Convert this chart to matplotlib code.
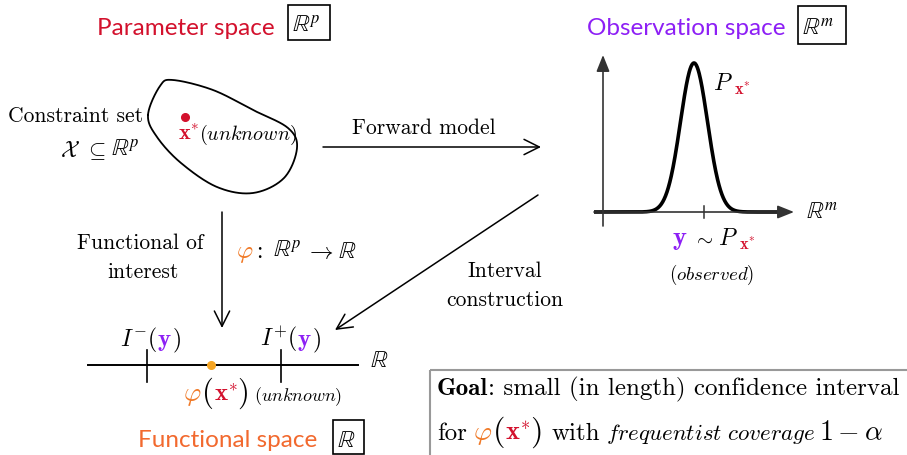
import numpy as np
import matplotlib.pyplot as plt
from matplotlib.patches import Rectangle

plt.rcParams['mathtext.fontset'] = 'cm'
plt.rcParams['font.family'] = 'cmr10'
plt.rcParams['axes.unicode_minus'] = False

red = '#d3112d'
purple = '#8d1ff5'
orange = '#f2692e'
phi_orange = '#f07a28'
dot_orange = '#f5a524'
title_font = 'Lato'
body = 15.5

# outline of the constraint set (pixel coords)
blob_x = [148, 160, 173, 213, 253, 288, 297, 284, 253, 217, 181, 157]
blob_y = [115, 86, 80, 90, 110, 128, 148, 178, 193, 187, 163, 137]

# density in observation space
peak_x, peak_sigma, peak_top, base_y = 694, 13.5, 63, 212
obs_tick = 704

# interval on the real line
line_start, line_end, line_y = 88, 358, 365
lower_tick, upper_tick, truth_x = 147, 281, 211

fig = plt.figure(figsize=(9.07, 4.55), dpi=100)
ax = fig.add_axes([0, 0, 1, 1])
ax.set_xlim(0, 907)
ax.set_ylim(455, 0)
ax.axis('off')
renderer = fig.canvas.get_renderer()


def line_of(x, y, parts, size=body, ha='left'):
    # coloured pieces on one baseline; a bare number is a gap in pixels
    arts, widths = [], []
    for p in parts:
        if isinstance(p, (int, float)):
            arts.append(None)
            widths.append(p)
            continue
        kw = dict(p[2]) if len(p) > 2 else {}
        kw.setdefault('fontsize', size)
        t = ax.text(0, y, p[0], color=p[1], va='baseline', ha='left', **kw)
        arts.append(t)
        widths.append(t.get_window_extent(renderer).width)
    total = sum(widths)
    cx = x - total / 2 if ha == 'center' else (x - total if ha == 'right' else x)
    for t, w in zip(arts, widths):
        if t is not None:
            t.set_x(cx)
        cx += w
    return arts


def closed_spline(px, py, n=30):
    pts = np.column_stack([px, py]).astype(float)
    m = len(pts)
    t = np.linspace(0, 1, n, endpoint=False)[:, None]
    out = []
    for i in range(m):
        p0, p1, p2, p3 = pts[i - 1], pts[i], pts[(i + 1) % m], pts[(i + 2) % m]
        out.append(0.5 * (2 * p1 + (-p0 + p2) * t + (2 * p0 - 5 * p1 + 4 * p2 - p3) * t ** 2
                          + (-p0 + 3 * p1 - 3 * p2 + p3) * t ** 3))
    out = np.vstack(out + [out[0][:1]])
    return out[:, 0], out[:, 1]


def boxed(x0, y0, x1, y1):
    ax.add_patch(Rectangle((x0, y0), x1 - x0, y1 - y0, fill=False, ec='black', lw=1.2))


def arrow(start, end):
    ax.annotate('', xy=end, xytext=start,
                arrowprops=dict(arrowstyle='->,head_length=0.5,head_width=0.25', color='black',
                                lw=1.1, mutation_scale=22, shrinkA=0, shrinkB=0))


bb = {'math_fontfamily': 'stix', 'fontsize': 17}

# --- parameter space
ax.text(97, 35, 'Parameter space', color=red, fontsize=17.5, family=title_font, va='baseline')
boxed(288, 5, 330, 40)
ax.text(292, 33, r'$\mathbb{R}^p$', va='baseline', **bb)

bx, by = closed_spline(blob_x, blob_y)
ax.plot(bx, by, color='black', lw=1.3)
ax.plot(185, 117, 'o', color=red, ms=5.5)
line_of(178, 140, [(r'$\mathbf{x}^{*}$', red, {'fontsize': 16}),
                   (r'$(\mathit{unknown})$', 'black', {'fontsize': 14.5})])
ax.text(143, 122, 'Constraint set', fontsize=body, ha='right', va='baseline')
line_of(140, 157, [(r'$\mathcal{X}$', 'black', {'fontsize': 16}), 5,
                   (r'$\subseteq$', 'black', {'fontsize': 16}), 5,
                   (r'$\mathbb{R}^p$', 'black', bb)], ha='right')

# --- forward model
arrow((323, 147), (541, 147))
ax.text(352, 134, 'Forward model', fontsize=body, va='baseline')

# --- observation space
ax.text(587, 35, 'Observation space', color=purple, fontsize=17.5, family=title_font, va='baseline')
boxed(798, 6, 846, 44)
ax.text(802, 36, r'$\mathbb{R}^m$', va='baseline', **bb)

axis_kw = dict(arrowstyle='-|>,head_length=0.5,head_width=0.2', color='#333333', lw=1.2,
               mutation_scale=20, shrinkA=0, shrinkB=0)
ax.annotate('', xy=(603, 55), xytext=(603, 226), arrowprops=axis_kw)
ax.annotate('', xy=(794, base_y), xytext=(594, base_y), arrowprops=axis_kw)
ax.plot([obs_tick, obs_tick], [206, 218], color='#333333', lw=1.1)
gx = np.linspace(594, 783, 400)
gy = base_y - (base_y - peak_top) * np.exp(-0.5 * ((gx - peak_x) / peak_sigma) ** 2)
ax.plot(gx, gy, color='black', lw=2.6, solid_capstyle='butt')
line_of(713, 90, [(r'$P$', 'black', {'fontsize': 17}), (r'$_{\mathbf{x}^{*}}$', red, {'fontsize': 17})])
ax.text(806, 220, r'$\mathbb{R}^m$', va='baseline', **bb)
line_of(714, 245, [(r'$\mathbf{y}$', purple, {'fontsize': 19}), 5,
                   (r'$\sim$', 'black', {'fontsize': 15}), 5,
                   (r'$P$', 'black', {'fontsize': 17}),
                   (r'$_{\mathbf{x}^{*}}$', red, {'fontsize': 17})], ha='center')
ax.text(712, 280, r'$(\mathit{observed})$', fontsize=13.5, ha='center', va='baseline')

# --- interval construction
arrow((538, 195), (335, 330))
ax.text(505, 277, 'Interval', fontsize=body, ha='center', va='baseline')
ax.text(505, 306, 'construction', fontsize=body, ha='center', va='baseline')

# --- functional of interest
arrow((222, 212), (222, 328))
ax.text(140, 249, 'Functional of', fontsize=body, ha='center', va='baseline')
ax.text(143, 278, 'interest', fontsize=body, ha='center', va='baseline')
line_of(236, 258, [(r'$\varphi$', phi_orange, {'fontsize': 18}), 3,
                   (r'$\colon$', 'black', {'fontsize': 17}), 10,
                   (r'$\mathbb{R}^p$', 'black', bb), 4,
                   (r'$\rightarrow$', 'black', {'fontsize': 17}), 4,
                   (r'$\mathbb{R}$', 'black', bb)])

# --- functional space
ax.plot([line_start, line_end], [line_y, line_y], color='black', lw=1.4)
for tx in (lower_tick, upper_tick):
    ax.plot([tx, tx], [350, 382], color='black', lw=1.2)
ax.plot(truth_x, line_y, 'o', color=dot_orange, ms=5.5)
ax.text(370, 367, r'$\mathbb{R}$', va='baseline', **bb)
for cx, sign in ((150, '-'), (290, '+')):
    line_of(cx, 346, [(r'$I^{%s}($' % sign, 'black', {'fontsize': 17}),
                      (r'$\mathbf{y}$', purple, {'fontsize': 18}),
                      (r'$)$', 'black', {'fontsize': 17})], ha='center')
line_of(183, 401, [(r'$\varphi$', phi_orange, {'fontsize': 19}),
                   (r'$($', 'black', {'fontsize': 22}),
                   (r'$\mathbf{x}^{*}$', red, {'fontsize': 18}),
                   (r'$)$', 'black', {'fontsize': 22}), 6,
                   (r'$(\mathit{unknown})$', 'black', {'fontsize': 13})])
ax.text(138, 447, 'Functional space', color=orange, fontsize=17.5, family=title_font, va='baseline')
boxed(333, 420, 364, 454)
ax.text(337, 447, r'$\mathbb{R}$', va='baseline', **bb)

# --- goal box
ax.add_patch(Rectangle((430, 370), 490, 95, fill=False, ec='#999999', lw=1.5))
line_of(437, 395, [('Goal', 'black', {'family': 'cmb10', 'fontsize': 18}),
                   (': small (in length) confidence interval', 'black', {'fontsize': 18})])
line_of(437, 440, [('for', 'black', {'fontsize': 18}), 6,
                   (r'$\varphi$', phi_orange, {'fontsize': 20}),
                   (r'$($', 'black', {'fontsize': 23}),
                   (r'$\mathbf{x}^{*}$', red, {'fontsize': 19}),
                   (r'$)$', 'black', {'fontsize': 23}), 10,
                   ('with', 'black', {'fontsize': 18}), 6,
                   (r'$\mathit{frequentist\ coverage}$', 'black', {'fontsize': 16.5}), 4,
                   (r'$1 - \alpha$', 'black', {'fontsize': 20})])

fig.savefig('out.png', dpi=100)
